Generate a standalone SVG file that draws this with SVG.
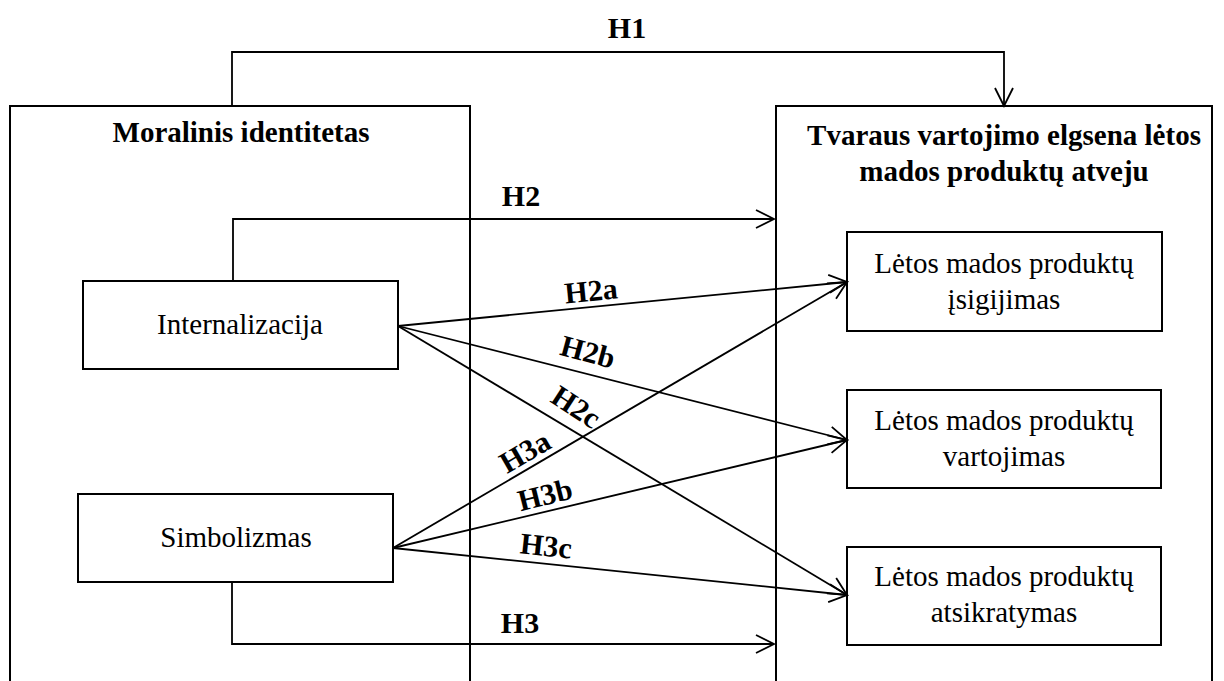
<svg xmlns="http://www.w3.org/2000/svg" width="1224" height="681" viewBox="0 0 1224 681">
  <style>
    .frame { fill: none; stroke: #000; stroke-width: 2; }
    .box { fill: #fff; stroke: #000; stroke-width: 2; }
    .link { fill: none; stroke: #000; stroke-width: 1.8; marker-end: url(#arr); }
    .plain { fill: none; stroke: #000; stroke-width: 1.8; }
    .t { font-family: "Liberation Serif", "Times New Roman", serif; font-size: 29px; fill: #000; text-anchor: middle; }
    .b { font-weight: bold; }
    .h { font-family: "Liberation Serif", "Times New Roman", serif; font-size: 30px; font-weight: bold; fill: #000; text-anchor: middle; }
  </style>
  <defs>
    <marker id="arr" markerWidth="24" markerHeight="24" viewBox="-20 -12 24 24" refX="0" refY="0" orient="auto" markerUnits="userSpaceOnUse" overflow="visible">
      <path d="M-18,-9 L0,0 L-18,9" fill="none" stroke="#000" stroke-width="1.8"/>
    </marker>
  </defs>
  <rect width="1224" height="681" fill="#fff"/>

  <!-- Moral identity construct -->
  <g id="moralinis-identitetas">
    <path class="frame" d="M10,690 V106 H470 V690"/>
    <text class="t b" x="241" y="142">Moralinis identitetas</text>
  </g>

  <!-- Sustainable consumption construct -->
  <g id="tvaraus-vartojimo-elgsena">
    <path class="frame" d="M776,690 V106 H1212 V690"/>
    <text class="t b" x="1004" y="145">Tvaraus vartojimo elgsena lėtos</text>
    <text class="t b" x="1004" y="181">mados produktų atveju</text>
  </g>

  <g id="internalizacija">
    <rect class="box" x="83" y="281" width="315" height="88"/>
    <text class="t" x="240" y="334">Internalizacija</text>
  </g>

  <g id="simbolizmas">
    <rect class="box" x="78" y="494" width="315" height="88"/>
    <text class="t" x="236" y="547">Simbolizmas</text>
  </g>

  <g id="isigijimas">
    <rect class="box" x="847" y="232" width="315" height="99"/>
    <text class="t" x="1004" y="273">Lėtos mados produktų</text>
    <text class="t" x="1004" y="309">įsigijimas</text>
  </g>

  <g id="vartojimas">
    <rect class="box" x="847" y="390" width="314" height="98"/>
    <text class="t" x="1004" y="430">Lėtos mados produktų</text>
    <text class="t" x="1004" y="466">vartojimas</text>
  </g>

  <g id="atsikratymas">
    <rect class="box" x="847" y="547" width="314" height="98"/>
    <text class="t" x="1004" y="586">Lėtos mados produktų</text>
    <text class="t" x="1004" y="622">atsikratymas</text>
  </g>

  <!-- Hypothesised paths -->
  <g id="connectors">
    <path class="link" d="M232,106 V52 H1004 V106"/>
    <path class="link" d="M233,281 V219 H774"/>
    <path class="link" d="M232,582 V644 H774"/>

    <path class="link" d="M398,326 L847,282"/>
    <path class="link" d="M398,326 L847,440"/>
    <path class="link" d="M398,326 L847,595"/>

    <path class="link" d="M393,548 L847,282"/>
    <path class="link" d="M393,548 L847,440"/>
    <path class="link" d="M393,548 L847,595"/>

    <text class="h" x="627" y="38">H1</text>
    <text class="h" x="521" y="206">H2</text>
    <text class="h" x="520" y="633">H3</text>

    <text class="h" transform="translate(591,291) rotate(-5.6)" y="10">H2a</text>
    <text class="h" transform="translate(588,352) rotate(15)" y="10">H2b</text>
    <text class="h" transform="translate(576,407) rotate(33)" y="10">H2c</text>
    <text class="h" transform="translate(525,452) rotate(-30)" y="10">H3a</text>
    <text class="h" transform="translate(545,495) rotate(-14)" y="10">H3b</text>
    <text class="h" transform="translate(546,546) rotate(6)" y="10">H3c</text>
  </g>
</svg>
